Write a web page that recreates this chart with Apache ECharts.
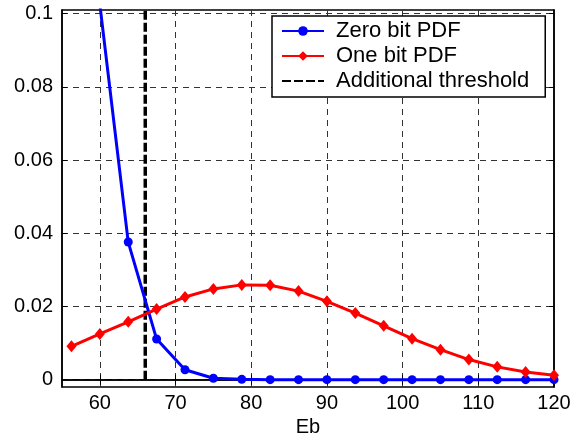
<!DOCTYPE html>
<html>
<head>
<meta charset="utf-8">
<script src="https://cdn.jsdelivr.net/npm/echarts@6/dist/echarts.min.js"></script>
<style>html,body{margin:0;padding:0;background:#fff}#c{width:574px;height:436px}</style>
</head>
<body>
<div id="c"></div>
<script>
var ebValues = [56.25, 60, 63.75, 67.5, 71.25, 75, 78.75, 82.5, 86.25, 90, 93.75, 97.5, 101.25, 105, 108.75, 112.5, 116.25, 120];
var zeroBitPdf = [0.22, 0.1025, 0.0376, 0.0111, 0.0027, 0.0004, 0.0001, 0, 0, 0, 0, 0, 0, 0, 0, 0, 0, 0];
var oneBitPdf = [0.0091, 0.0125, 0.0158, 0.0193, 0.0226, 0.0248, 0.0259, 0.0258, 0.0242, 0.0214, 0.0182, 0.0147, 0.0112, 0.0082, 0.0055, 0.0035, 0.0021, 0.0012];
var thresholdX = 66;
var thresholdY = [0, 0.2];
var xTicks = [60, 70, 80, 90, 100, 110, 120];
var yTicks = [0, 0.02, 0.04, 0.06, 0.08, 0.1];
var xRange = [55, 120];
var yRange = [-0.002, 0.101];

function pairs(xs, ys) { return xs.map(function (x, i) { return [x, ys[i]]; }); }

var font = 'Liberation Sans, Arial, sans-serif';
var gridLine = { show: true, lineStyle: { color: '#333', width: 1, type: [6, 5] } };

var chart = echarts.init(document.getElementById('c'));
chart.setOption({
  animation: false,
  backgroundColor: '#fff',
  grid: { left: 62, right: 20, top: 10, bottom: 49, outerBoundsMode: 'none', containLabel: false,
    show: true, borderColor: '#000', borderWidth: 1.5, backgroundColor: 'transparent' },
  legend: {
    orient: 'vertical', left: 272, top: 16,
    padding: [4, 16, 5, 9],
    itemGap: 3, itemWidth: 42, itemHeight: 12,
    backgroundColor: '#fff', borderColor: '#000', borderWidth: 1.5, borderRadius: 0,
    textStyle: { fontFamily: font, fontSize: 22, color: '#000', padding: [0, 0, 0, 7] },
    data: ['Zero bit PDF', 'One bit PDF',
      { name: 'Additional threshold', itemStyle: { color: 'rgba(0,0,0,0)', borderWidth: 0 } }]
  },
  xAxis: [{
    type: 'value', min: xRange[0], max: xRange[1], position: 'bottom',
    name: 'Eb', nameLocation: 'middle', nameGap: 27,
    nameTextStyle: { fontFamily: font, fontSize: 20, color: '#000' },
    axisLine: { show: true, lineStyle: { color: '#000', width: 1.5 } },
    axisTick: { show: true, inside: true, length: 5, customValues: xTicks, lineStyle: { color: '#000' } },
    axisLabel: { customValues: xTicks, fontFamily: font, fontSize: 20, color: '#000', margin: 6 },
    splitLine: gridLine
  }, {
    type: 'value', min: xRange[0], max: xRange[1], position: 'top',
    axisLine: { show: true, lineStyle: { color: '#000', width: 1.5 } },
    axisTick: { show: true, inside: true, length: 5, customValues: xTicks, lineStyle: { color: '#000' } },
    axisLabel: { show: false }, splitLine: { show: false }
  }],
  yAxis: [{
    type: 'value', min: yRange[0], max: yRange[1], position: 'left',
    axisLine: { show: true, lineStyle: { color: '#000', width: 1.5 } },
    axisTick: { show: true, inside: true, length: 5, customValues: yTicks, lineStyle: { color: '#000' } },
    axisLabel: { customValues: yTicks, fontFamily: font, fontSize: 20, color: '#000', margin: 9,
      formatter: function (v) { return String(+v.toFixed(3)); } },
    splitLine: gridLine
  }, {
    type: 'value', min: yRange[0], max: yRange[1], position: 'right',
    axisLine: { show: true, lineStyle: { color: '#000', width: 1.5 } },
    axisTick: { show: true, inside: true, length: 5, customValues: yTicks, lineStyle: { color: '#000' } },
    axisLabel: { show: false }, splitLine: { show: false }
  }],
  series: [{
    name: 'Additional threshold', type: 'line', z: 2,
    data: thresholdY.map(function (y) { return [thresholdX, y]; }),
    symbol: 'none', lineStyle: { color: '#000', width: 3.5, type: [9, 3] }, itemStyle: { color: '#000' }
  }, {
    name: 'Zero bit PDF', type: 'line', z: 3,
    data: pairs(ebValues, zeroBitPdf),
    symbol: 'circle', symbolSize: 9, showAllSymbol: true,
    lineStyle: { color: '#0000ff', width: 3 }, itemStyle: { color: '#0000ff' }
  }, {
    name: 'One bit PDF', type: 'line', z: 4,
    data: pairs(ebValues, oneBitPdf),
    symbol: 'diamond', symbolSize: [10, 12], showAllSymbol: true,
    lineStyle: { color: '#ff0000', width: 3 }, itemStyle: { color: '#ff0000' }
  }]
});
</script>
</body>
</html>
